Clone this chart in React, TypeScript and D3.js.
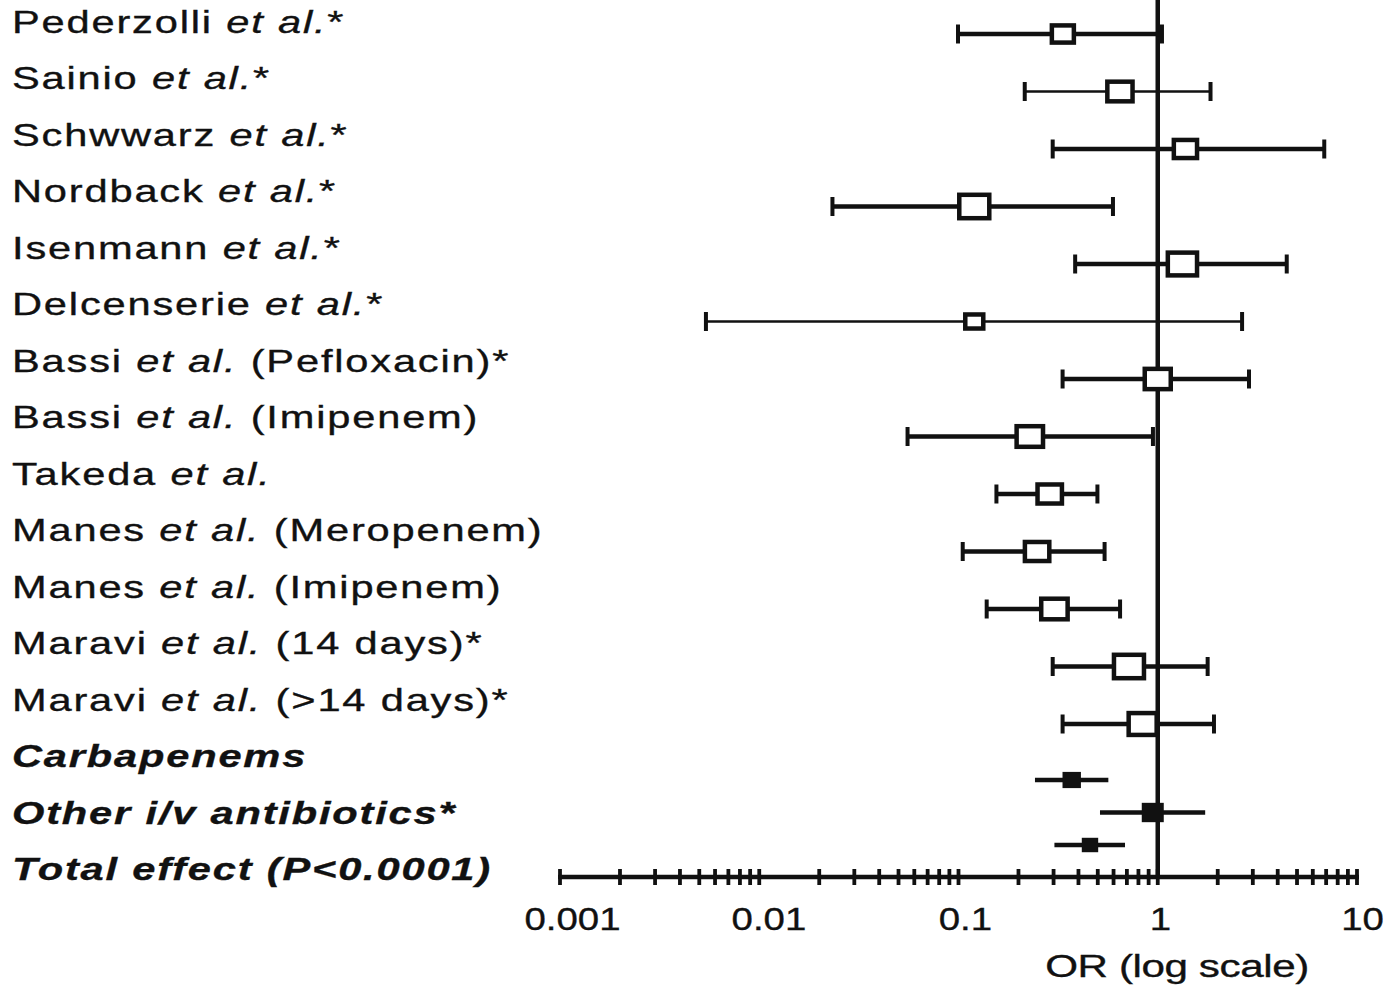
import React, { useEffect, useRef } from "react";
import * as d3 from "d3";

// ---------- data ----------
const studyNames = [
  "Pederzolli", "Sainio", "Schwwarz", "Nordback", "Isenmann", "Delcenserie",
  "Bassi", "Bassi", "Takeda", "Manes", "Manes", "Maravi", "Maravi",
];
const studySuffix = [
  "*", "*", "*", "*", "*", "*",
  " (Pefloxacin)*", " (Imipenem)", "", " (Meropenem)", " (Imipenem)",
  " (14 days)*", " (>14 days)*",
];
const studyOR = [0.334, 0.646, 1.377, 0.12, 1.33, 0.12, 1.0, 0.228, 0.287, 0.248, 0.303, 0.717, 0.84];
const studyLow = [0.0994, 0.215, 0.297, 0.0233, 0.385, 0.0054, 0.333, 0.0555, 0.155, 0.105, 0.1385, 0.297, 0.333];
const studyHigh = [1.05, 1.84, 6.85, 0.596, 4.44, 2.65, 2.87, 0.946, 0.498, 0.541, 0.647, 1.78, 1.915];
const studyWeight = [5.5, 6.3, 5.8, 7.5, 7.3, 4.5, 6.5, 6.6, 6.1, 6.1, 6.6, 7.5, 7.0];

const summaryNames = ["Carbapenems", "Other i/v antibiotics*", "Total effect (P<0.0001)"];
const summaryOR = [0.37, 0.944, 0.457];
const summaryLow = [0.242, 0.513, 0.303];
const summaryHigh = [0.565, 1.73, 0.685];
const summaryWeight = [4.6, 5.5, 4.1];

const tickValues = [0.001, 0.01, 0.1, 1, 10];
const tickLabels = ["0.001", "0.01", "0.1", "1", "10"];
const axisTitle = "OR (log scale)";

// style groups
const thinRows = new Set([1, 5]);

const W = 1388;
const H = 987;
const FONT = "'Liberation Sans', Arial, Helvetica, sans-serif";
const INK = "#111";

export default function App() {
  const ref = useRef<SVGSVGElement | null>(null);

  useEffect(() => {
    const svg = d3.select(ref.current);
    svg.selectAll("*").remove();

    const x = d3.scaleLog().domain([0.001, 10]).range([560, 1357]);
    const yStudy = d3.scaleLinear().domain([0, studyNames.length - 1]).range([34, 724]);
    const ySum = d3.scaleLinear().domain([0, summaryNames.length - 1]).range([780, 845]);
    const nLabels = studyNames.length + summaryNames.length;
    const yLabel = d3.scaleLinear().domain([0, nLabels - 1]).range([33, 880]);
    const size = d3.scaleLinear().domain([0, 7.5]).range([0, 30]);
    const axisY = 877;

    // ---- labels ----
    const labels = svg
      .append("g")
      .attr("font-family", FONT)
      .attr("fill", INK)
      .attr("stroke", INK)
      .attr("stroke-width", 0.35)
      .attr("font-size", 32);
    studyNames.forEach((name, i) => {
      const t = labels
        .append("text")
        .attr("transform", `translate(12,${yLabel(i)}) scale(1.3,1)`)
        .attr("letter-spacing", 1.4);
      t.append("tspan").text(name + " ");
      t.append("tspan").attr("font-style", "italic").text("et al.");
      t.append("tspan").text(studySuffix[i]);
    });
    summaryNames.forEach((name, j) => {
      labels
        .append("text")
        .attr("transform", `translate(12,${yLabel(studyNames.length + j)}) scale(1.3,1)`)
        .attr("letter-spacing", 1.4)
        .attr("font-weight", "bold")
        .attr("font-style", "italic")
        .text(name);
    });

    // ---- reference line at OR = 1 ----
    svg
      .append("line")
      .attr("x1", x(1)).attr("x2", x(1))
      .attr("y1", 0).attr("y2", axisY)
      .attr("stroke", INK).attr("stroke-width", 4.5);

    // ---- study rows ----
    const rows = svg.append("g");
    studyNames.forEach((_, i) => {
      const y = yStudy(i);
      const sw = thinRows.has(i) ? 2.6 : 4.5;
      const g = rows.append("g");
      g.append("line")
        .attr("x1", x(studyLow[i])).attr("x2", x(studyHigh[i]))
        .attr("y1", y).attr("y2", y)
        .attr("stroke", INK).attr("stroke-width", sw);
      [studyLow[i], studyHigh[i]].forEach((v) => {
        g.append("line")
          .attr("x1", x(v)).attr("x2", x(v))
          .attr("y1", y - 9.5).attr("y2", y + 9.5)
          .attr("stroke", INK).attr("stroke-width", 4);
      });
      const w = size(studyWeight[i]);
      const h = w * 0.78;
      g.append("rect")
        .attr("x", x(studyOR[i]) - w / 2)
        .attr("y", y - h / 2)
        .attr("width", w)
        .attr("height", h)
        .attr("fill", "#fff")
        .attr("stroke", INK)
        .attr("stroke-width", 4.5);
    });

    // ---- summary rows ----
    summaryNames.forEach((_, j) => {
      const y = ySum(j);
      const g = rows.append("g");
      g.append("line")
        .attr("x1", x(summaryLow[j])).attr("x2", x(summaryHigh[j]))
        .attr("y1", y).attr("y2", y)
        .attr("stroke", INK).attr("stroke-width", 4.5);
      const w = size(summaryWeight[j]);
      const h = w * 0.88;
      g.append("rect")
        .attr("x", x(summaryOR[j]) - w / 2)
        .attr("y", y - h / 2)
        .attr("width", w)
        .attr("height", h)
        .attr("fill", INK);
    });

    // ---- axis ----
    const ax = svg.append("g");
    ax.append("line")
      .attr("x1", x(0.001) - 2).attr("x2", x(10) + 2)
      .attr("y1", axisY).attr("y2", axisY)
      .attr("stroke", INK).attr("stroke-width", 4.5);
    const allTicks = x.ticks();
    allTicks.forEach((v) => {
      ax.append("line")
        .attr("x1", x(v)).attr("x2", x(v))
        .attr("y1", axisY - 8).attr("y2", axisY + 8)
        .attr("stroke", INK).attr("stroke-width", 3.8);
    });
    tickValues.forEach((v, k) => {
      const t = ax
        .append("text")
        .attr("font-family", FONT)
        .attr("font-size", 32)
        .attr("fill", INK)
        .attr("stroke", INK)
        .attr("stroke-width", 0.35)
        .attr("text-anchor", "middle")
        .attr("transform", `translate(${x(v)},930) scale(1.2,1)`)
        .text(tickLabels[k]);
      const len = (t.node() as SVGTextElement).getComputedTextLength();
      t.attr("dx", len * 0.13);
    });
    ax.append("text")
      .attr("font-family", FONT)
      .attr("font-size", 31)
      .attr("fill", INK)
      .attr("stroke", INK)
      .attr("stroke-width", 0.35)
      .attr("text-anchor", "middle")
      .attr("letter-spacing", -0.3)
      .attr("transform", `translate(1177,977) scale(1.36,1)`)
      .text(axisTitle);
  }, []);

  return (
    <div style={{ position: "absolute", left: 0, top: 0, width: W, height: H, background: "#fff" }}>
      <svg ref={ref} width={W} height={H} viewBox={`0 0 ${W} ${H}`} style={{ display: "block" }} />
    </div>
  );
}
